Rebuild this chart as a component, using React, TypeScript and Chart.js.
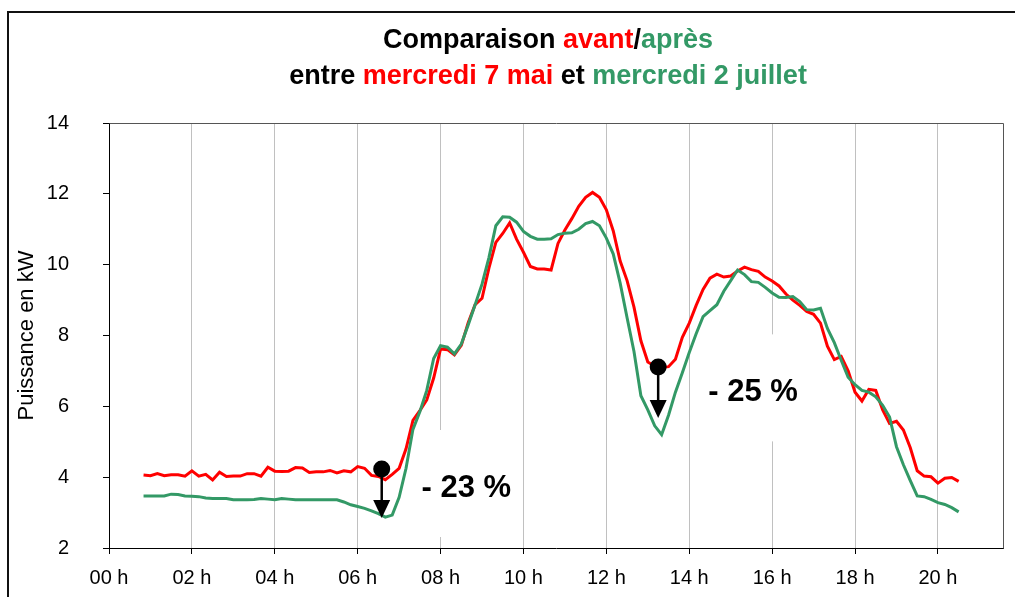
import React, { useEffect, useRef } from "react";
import { Chart, registerables } from "chart.js";

Chart.register(...registerables);

// Time categories: 10-minute readings starting at 00:50
const START_MINUTE = 50;
const STEP_MINUTES = 10;

// Puissance (kW) – mercredi 7 mai (avant)
const AVANT = [
  4.06, 4.04, 4.10, 4.04, 4.07, 4.07, 4.03, 4.18, 4.03, 4.08,
  3.92, 4.14, 4.02, 4.03, 4.03, 4.10, 4.10, 4.03, 4.28, 4.17,
  4.16, 4.17, 4.27, 4.26, 4.13, 4.15, 4.15, 4.19, 4.12, 4.18,
  4.15, 4.30, 4.25, 4.05, 4.02, 3.93, 4.08, 4.25, 4.80, 5.60,
  5.88, 6.18, 6.80, 7.62, 7.60, 7.45, 7.72, 8.36, 8.87, 9.05,
  9.90, 10.63, 10.88, 11.18, 10.72, 10.35, 9.95, 9.88, 9.88, 9.85,
  10.60, 10.98, 11.30, 11.65, 11.90, 12.04, 11.90, 11.55, 10.95, 10.10,
  9.55, 8.80, 7.85, 7.25, 7.14, 7.10, 7.12, 7.33, 7.95, 8.35,
  8.85, 9.30, 9.62, 9.73, 9.65, 9.68, 9.82, 9.93, 9.86, 9.81,
  9.65, 9.54, 9.40, 9.17, 9.00, 8.85, 8.68, 8.60, 8.35, 7.70,
  7.32, 7.41, 7.00, 6.40, 6.15, 6.48, 6.45, 5.90, 5.52, 5.58,
  5.33, 4.83, 4.18, 4.03, 4.01, 3.83, 3.97, 3.99, 3.88,
];

// Puissance (kW) – mercredi 2 juillet (après)
const APRES = [
  3.47, 3.47, 3.47, 3.47, 3.52, 3.51, 3.47, 3.46, 3.45, 3.41,
  3.40, 3.40, 3.40, 3.36, 3.36, 3.36, 3.37, 3.40, 3.38, 3.36,
  3.40, 3.38, 3.36, 3.36, 3.36, 3.36, 3.36, 3.36, 3.36, 3.30,
  3.22, 3.17, 3.12, 3.05, 2.97, 2.87, 2.93, 3.43, 4.25, 5.35,
  5.85, 6.45, 7.35, 7.71, 7.67, 7.48, 7.76, 8.30, 8.87, 9.45,
  10.20, 11.10, 11.35, 11.34, 11.20, 10.94, 10.80, 10.72, 10.72, 10.73,
  10.85, 10.89, 10.90, 11.00, 11.16, 11.22, 11.10, 10.75, 10.30, 9.48,
  8.50, 7.55, 6.30, 5.90, 5.45, 5.20, 5.75, 6.40, 6.95, 7.52,
  8.05, 8.53, 8.70, 8.87, 9.25, 9.55, 9.85, 9.72, 9.52, 9.50,
  9.36, 9.20, 9.08, 9.07, 9.10, 8.96, 8.73, 8.72, 8.77, 8.20,
  7.80, 7.30, 6.82, 6.61, 6.45, 6.40, 6.27, 6.03, 5.70, 4.86,
  4.35, 3.90, 3.47, 3.45, 3.37, 3.28, 3.23, 3.14, 3.02,
];

const HOURS = AVANT.map((_, i) => (START_MINUTE + i * STEP_MINUTES) / 60);

const X_TICKS = [0, 2, 4, 6, 8, 10, 12, 14, 16, 18, 20];
const Y_TICKS = [2, 4, 6, 8, 10, 12, 14];
const X_MAX = 21.57;

const Y_TITLE = "Puissance en kW";

const RED = "#FF0000";
const GREEN = "#339966";
const BLACK = "#000000";

const TITLE_LINE_1 = [
  { text: "Comparaison ", color: BLACK },
  { text: "avant", color: RED },
  { text: "/", color: BLACK },
  { text: "après", color: GREEN },
];
const TITLE_LINE_2 = [
  { text: "entre ", color: BLACK },
  { text: "mercredi 7 mai", color: RED },
  { text: " et ", color: BLACK },
  { text: "mercredi 2 juillet", color: GREEN },
];

// Drop annotations (data coordinates)
const DROPS = [
  { hour: 6.58, from: 4.23, to: 2.85, label: "- 23 %", labelHour: 7.54, labelValue: 3.44 },
  { hour: 13.25, from: 7.11, to: 5.67, label: "- 25 %", labelHour: 14.46, labelValue: 6.14 },
];

const FONT = '"Liberation Sans", Arial, Helvetica, sans-serif';

function drawRich(ctx: CanvasRenderingContext2D, parts: { text: string; color: string }[], cx: number, baseline: number) {
  const widths = parts.map((p) => ctx.measureText(p.text).width);
  const total = widths.reduce((a, b) => a + b, 0);
  let xx = cx - total / 2;
  parts.forEach((p, i) => {
    ctx.fillStyle = p.color;
    ctx.fillText(p.text, xx, baseline);
    xx += widths[i];
  });
}

const decorPlugin = {
  id: "decor",
  beforeDatasetsDraw(chart: any) {
    const { ctx, scales } = chart;
    const x = scales.x;
    const y = scales.y;
    ctx.save();
    ctx.font = `bold 31px ${FONT}`;
    ctx.fillStyle = "#ffffff";
    DROPS.forEach((d) => {
      const lx = x.getPixelForValue(d.labelHour);
      const ly = y.getPixelForValue(d.labelValue);
      const w = ctx.measureText(d.label).width;
      ctx.fillRect(lx - 7, ly - 67, w + 14, 107);
    });
    ctx.restore();
  },
  afterDatasetsDraw(chart: any) {
    const { ctx, chartArea, scales } = chart;
    const x = scales.x;
    const y = scales.y;
    ctx.save();
    // plot area top/right border
    ctx.strokeStyle = "#555555";
    ctx.lineWidth = 1;
    ctx.beginPath();
    ctx.moveTo(Math.round(chartArea.left) + 0.5, Math.round(chartArea.top) + 0.5);
    ctx.lineTo(Math.round(chartArea.right) + 0.5, Math.round(chartArea.top) + 0.5);
    ctx.lineTo(Math.round(chartArea.right) + 0.5, Math.round(chartArea.bottom) + 0.5);
    ctx.stroke();

    DROPS.forEach((d) => {
      const px = x.getPixelForValue(d.hour);
      const y0 = y.getPixelForValue(d.from);
      const y1 = y.getPixelForValue(d.to);
      const headH = 18;
      const headW = 17;
      ctx.strokeStyle = BLACK;
      ctx.lineWidth = 2.5;
      ctx.beginPath();
      ctx.moveTo(px, y0);
      ctx.lineTo(px, y1 - headH + 2);
      ctx.stroke();
      ctx.fillStyle = BLACK;
      ctx.beginPath();
      ctx.moveTo(px - headW / 2, y1 - headH);
      ctx.lineTo(px + headW / 2, y1 - headH);
      ctx.lineTo(px, y1);
      ctx.closePath();
      ctx.fill();
      ctx.beginPath();
      ctx.arc(px, y0, 8.5, 0, Math.PI * 2);
      ctx.fill();

      ctx.font = `bold 31px ${FONT}`;
      ctx.textAlign = "left";
      ctx.textBaseline = "alphabetic";
      ctx.fillText(d.label, x.getPixelForValue(d.labelHour), y.getPixelForValue(d.labelValue));
    });
    ctx.restore();
  },
  afterDraw(chart: any) {
    const { ctx, chartArea } = chart;
    ctx.save();
    // title
    ctx.font = `bold 27px ${FONT}`;
    ctx.textAlign = "left";
    ctx.textBaseline = "alphabetic";
    drawRich(ctx, TITLE_LINE_1, 548, 48);
    drawRich(ctx, TITLE_LINE_2, 548, 84);

    // y axis title
    ctx.save();
    ctx.translate(33, (chartArea.top + chartArea.bottom) / 2);
    ctx.rotate(-Math.PI / 2);
    ctx.font = `22px ${FONT}`;
    ctx.fillStyle = BLACK;
    ctx.textAlign = "center";
    ctx.textBaseline = "alphabetic";
    ctx.fillText(Y_TITLE, 0, 0);
    ctx.restore();

    // outer frame
    ctx.strokeStyle = "#111111";
    ctx.lineWidth = 2;
    ctx.beginPath();
    ctx.moveTo(8, 597);
    ctx.lineTo(8, 12);
    ctx.lineTo(1015, 12);
    ctx.stroke();
    ctx.restore();
  },
};

export default function App() {
  const canvasRef = useRef<HTMLCanvasElement | null>(null);

  useEffect(() => {
    if (!canvasRef.current) return;
    const chart = new Chart(canvasRef.current, {
      type: "line",
      data: {
        datasets: [
          {
            label: "après",
            data: HOURS.map((h, i) => ({ x: h, y: APRES[i] })),
            borderColor: GREEN,
            backgroundColor: GREEN,
            borderWidth: 3,
            pointRadius: 0,
            tension: 0,
          },
          {
            label: "avant",
            data: HOURS.map((h, i) => ({ x: h, y: AVANT[i] })),
            borderColor: RED,
            backgroundColor: RED,
            borderWidth: 3,
            pointRadius: 0,
            tension: 0,
          },
        ],
      },
      options: {
        responsive: false,
        animation: false,
        devicePixelRatio: 1,
        layout: { padding: { top: 123, right: 12, left: 0, bottom: 0 } },
        plugins: {
          legend: { display: false },
          tooltip: { enabled: false },
          title: { display: false },
        },
        scales: {
          x: {
            type: "linear",
            min: 0,
            max: X_MAX,
            afterBuildTicks: (s: any) => {
              s.ticks = X_TICKS.map((v) => ({ value: v }));
            },
            afterFit: (s: any) => {
              s.height = 49;
            },
            ticks: {
              autoSkip: false,
              maxRotation: 0,
              padding: 12,
              color: BLACK,
              font: { family: FONT, size: 20 },
              callback: (v: any) => `${String(v).padStart(2, "0")} h`,
            },
            grid: {
              color: "#c0c0c0",
              lineWidth: 1,
              tickLength: 6,
              tickColor: BLACK,
            },
            border: { color: BLACK, width: 1 },
          },
          y: {
            type: "linear",
            min: 2,
            max: 14,
            afterBuildTicks: (s: any) => {
              s.ticks = Y_TICKS.map((v) => ({ value: v }));
            },
            afterFit: (s: any) => {
              s.width = 109;
            },
            ticks: {
              padding: 34,
              color: BLACK,
              font: { family: FONT, size: 20 },
            },
            grid: {
              drawOnChartArea: false,
              tickLength: 6,
              tickColor: BLACK,
            },
            border: { color: BLACK, width: 1 },
          },
        },
      },
      plugins: [decorPlugin],
    });
    return () => chart.destroy();
  }, []);

  return (
    <div style={{ position: "fixed", left: 0, top: 0, width: 1015, height: 597, background: "#fff" }}>
      <canvas ref={canvasRef} width={1015} height={597} style={{ display: "block" }} />
    </div>
  );
}
